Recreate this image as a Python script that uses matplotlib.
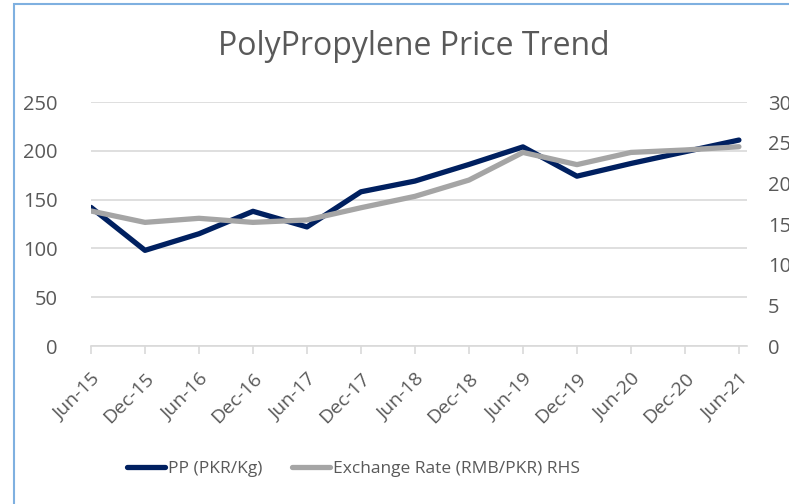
import matplotlib.pyplot as plt
from matplotlib.patches import Rectangle
from matplotlib.transforms import ScaledTranslation

# data
months = ['Jun-15', 'Dec-15', 'Jun-16', 'Dec-16', 'Jun-17', 'Dec-17', 'Jun-18',
          'Dec-18', 'Jun-19', 'Dec-19', 'Jun-20', 'Dec-20', 'Jun-21']
pp_price = [142, 98, 115, 138, 122, 158, 169, 186, 204, 174, 187, 199, 211]
fx_rate = [16.6, 15.2, 15.7, 15.2, 15.5, 17.0, 18.4, 20.4, 23.8, 22.3, 23.8, 24.1, 24.5]

plt.rcParams['font.family'] = ['Open Sans', 'DejaVu Sans']
txt = '#595959'
grid = '#d9d9d9'

fig = plt.figure(figsize=(7.89, 5.04), dpi=100)
ax = fig.add_axes([91 / 789, 158 / 504, 656 / 789, 244 / 504])
ax2 = ax.twinx()

x = list(range(len(months)))
l1, = ax.plot(x, pp_price, color='#002060', lw=3.8, solid_capstyle='round', zorder=3)
l2, = ax2.plot(x, fx_rate, color='#a5a5a5', lw=3.8, solid_capstyle='round', zorder=3)

ax.set_xlim(0, len(months) - 1 + 0.15)
ax.set_ylim(0, 250)
ax.set_yticks(range(0, 251, 50))
ax2.set_ylim(0, 30)
ax2.set_yticks(range(0, 31, 5))
ax.grid(axis='y', color=grid, lw=1.2)
ax.set_axisbelow(True)

ax.set_xticks(x)
ax.set_xticklabels(months, rotation=45, ha='right', rotation_mode='anchor')
shift = ScaledTranslation(6 / 100, 0, fig.dpi_scale_trans)
for lab in ax.get_xticklabels():
    lab.set_transform(lab.get_transform() + shift)

for a in (ax, ax2):
    for s in a.spines.values():
        s.set_visible(False)
ax.spines['bottom'].set_visible(True)
ax.spines['bottom'].set_color(grid)
ax.spines['bottom'].set_linewidth(1.2)

ax.tick_params(axis='x', colors=grid, length=6, width=1.2, labelcolor=txt,
               labelsize=14, pad=11)
ax.tick_params(axis='y', length=0, labelcolor=txt, labelsize=14.5, pad=24)
ax2.tick_params(axis='y', length=0, labelcolor=txt, labelsize=14.5, pad=15)

fig.text(0.524, 0.907, 'PolyPropylene Price Trend', ha='center', va='center',
         fontsize=23, color=txt)

fig.legend([l1, l2], ['PP (PKR/Kg)', 'Exchange Rate (RMB/PKR) RHS'],
           loc='center', bbox_to_anchor=(0.448, 0.069), ncol=2, frameon=False,
           fontsize=12.5, handlelength=2.2, handletextpad=0.15, columnspacing=1.7,
           labelcolor=txt)

# chart border (cut off at right and bottom in the reference)
fig.patches.append(Rectangle((14 / 789, -0.1), 1.2, 1.1 - 4 / 504,
                             transform=fig.transFigure, fill=False,
                             edgecolor='#7fb0e0', lw=1.5))

fig.savefig('out.png', dpi=100)
